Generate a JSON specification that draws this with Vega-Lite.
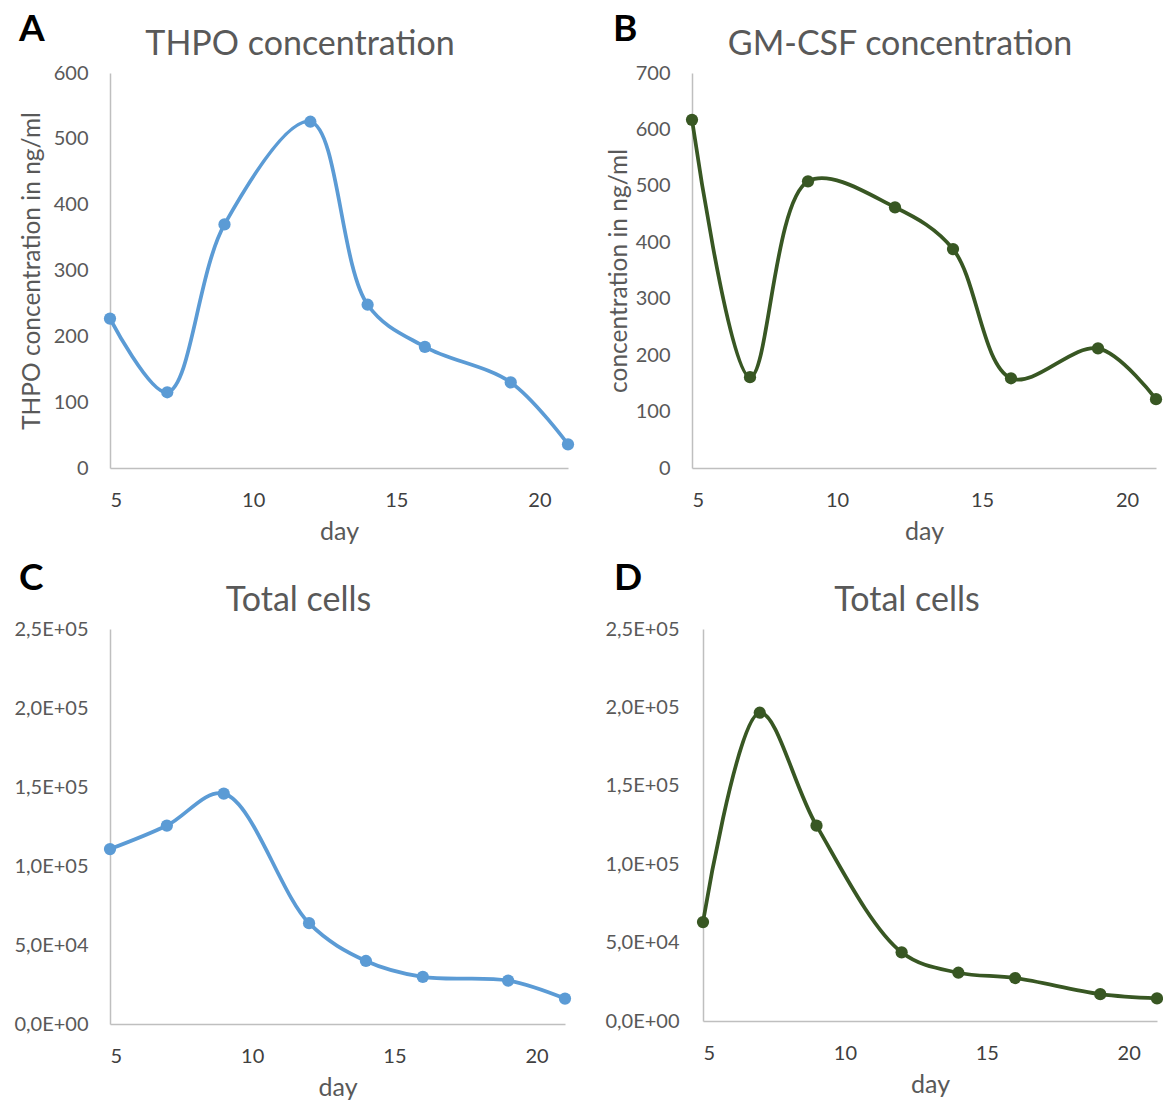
{
  "$schema": "https://vega.github.io/schema/vega-lite/v6.json",
  "padding": {"left": 13, "top": 11, "right": 0, "bottom": 0},
  "background": "white",
  "config": {
    "view": {"stroke": null},
    "font": "Lato",
    "axis": {
      "grid": false,
      "ticks": false,
      "tickSize": 0,
      "domainColor": "#BFBFBF",
      "domainWidth": 1.5,
      "labelColor": "#595959",
      "labelFont": "Lato",
      "labelFontSize": 20,
      "titleColor": "#595959",
      "titleFont": "Lato",
      "titleFontSize": 24.5,
      "titleFontWeight": "normal"
    },
    "axisX": {"labelPadding": 22, "titlePadding": 9, "labelColor": "#404040", "titleFontSize": 25},
    "axisY": {"labelPadding": 22, "titlePadding": 9},
    "title": {"font": "Lato", "fontSize": 34, "fontWeight": "normal", "color": "#595959"}
  },
  "datasets": {
    "thpo": [
      {"day": 5, "value": 227}, {"day": 7, "value": 115}, {"day": 9, "value": 370}, {"day": 12, "value": 526},
      {"day": 14, "value": 248}, {"day": 16, "value": 184}, {"day": 19, "value": 130}, {"day": 21, "value": 36}
    ],
    "gmcsf": [
      {"day": 5, "value": 617}, {"day": 7, "value": 161}, {"day": 9, "value": 508}, {"day": 12, "value": 462},
      {"day": 14, "value": 388}, {"day": 16, "value": 159}, {"day": 19, "value": 212}, {"day": 21, "value": 122}
    ],
    "cellsC": [
      {"day": 5, "value": 110700}, {"day": 7, "value": 125600}, {"day": 9, "value": 145800}, {"day": 12, "value": 63800},
      {"day": 14, "value": 39900}, {"day": 16, "value": 29800}, {"day": 19, "value": 27500}, {"day": 21, "value": 16100}
    ],
    "cellsD": [
      {"day": 5, "value": 63100}, {"day": 7, "value": 196600}, {"day": 9, "value": 124600}, {"day": 12, "value": 43800},
      {"day": 14, "value": 30800}, {"day": 16, "value": 27400}, {"day": 19, "value": 17100}, {"day": 21, "value": 14400}
    ]
  },
  "spacing": 16,
  "vconcat": [
    {
      "spacing": 30,
      "hconcat": [
        {
          "title": {"text": "A", "anchor": "start", "frame": "group", "fontSize": 37, "fontWeight": "bold", "color": "#000000", "dx": -91, "dy": 25},
          "vconcat": [
            {
              "title": {"text": "THPO concentration", "dx": -39, "dy": 3},
              "width": 458,
              "height": 395,
              "data": {"name": "thpo"},
              "encoding": {
                "x": {"field": "day", "type": "quantitative", "scale": {"domain": [5, 21], "nice": false, "zero": false}, "axis": {"values": [5, 10, 15, 20], "title": "day"}},
                "y": {"field": "value", "type": "quantitative", "scale": {"domain": [0, 600], "nice": false}, "axis": {"values": [0, 100, 200, 300, 400, 500, 600], "title": "THPO concentration in ng/ml"}}
              },
              "layer": [
                {"mark": {"type": "line", "interpolate": "catmull-rom", "color": "#5B9BD5", "strokeWidth": 3.75}},
                {"mark": {"type": "point", "filled": true, "size": 150, "color": "#5B9BD5", "opacity": 1}}
              ]
            }
          ]
        },
        {
          "title": {"text": "B", "anchor": "start", "frame": "group", "fontSize": 37, "fontWeight": "bold", "color": "#000000", "dx": -79, "dy": 25},
          "vconcat": [
            {
              "title": {"text": "GM-CSF concentration", "dx": -24, "dy": 3},
              "width": 464,
              "height": 395,
              "data": {"name": "gmcsf"},
              "encoding": {
                "x": {"field": "day", "type": "quantitative", "scale": {"domain": [5, 21], "nice": false, "zero": false}, "axis": {"values": [5, 10, 15, 20], "title": "day"}},
                "y": {"field": "value", "type": "quantitative", "scale": {"domain": [0, 700], "nice": false}, "axis": {"values": [0, 100, 200, 300, 400, 500, 600, 700], "title": "concentration in ng/ml", "titlePadding": 3.5}}
              },
              "layer": [
                {"mark": {"type": "line", "interpolate": "catmull-rom", "color": "#385723", "strokeWidth": 3.75}},
                {"mark": {"type": "point", "filled": true, "size": 150, "color": "#385723", "opacity": 1}}
              ]
            }
          ]
        }
      ]
    },
    {
      "spacing": 31,
      "hconcat": [
        {
          "title": {"text": "C", "anchor": "start", "frame": "group", "fontSize": 37, "fontWeight": "bold", "color": "#000000", "dx": -91, "dy": 18},
          "vconcat": [
            {
              "title": {"text": "Total cells", "dx": -39, "dy": 3},
              "width": 455,
              "height": 395,
              "data": {"name": "cellsC"},
              "encoding": {
                "x": {"field": "day", "type": "quantitative", "scale": {"domain": [5, 21], "nice": false, "zero": false}, "axis": {"values": [5, 10, 15, 20], "title": "day"}},
                "y": {"field": "value", "type": "quantitative", "scale": {"domain": [0, 250000], "nice": false}, "axis": {"values": [0, 50000, 100000, 150000, 200000, 250000], "title": null, "labelPadding": 22, "labelExpr": "replace(replace(upper(format(datum.value, '.1e')), '.', ','), 'E+', 'E+0')"}}
              },
              "layer": [
                {"mark": {"type": "line", "interpolate": "catmull-rom", "color": "#5B9BD5", "strokeWidth": 3.75}},
                {"mark": {"type": "point", "filled": true, "size": 150, "color": "#5B9BD5", "opacity": 1}}
              ]
            }
          ]
        },
        {
          "title": {"text": "D", "anchor": "start", "frame": "group", "fontSize": 37, "fontWeight": "bold", "color": "#000000", "dx": -89, "dy": 18},
          "vconcat": [
            {
              "title": {"text": "Total cells", "dx": -23, "dy": 3},
              "width": 454,
              "height": 392,
              "data": {"name": "cellsD"},
              "encoding": {
                "x": {"field": "day", "type": "quantitative", "scale": {"domain": [5, 21], "nice": false, "zero": false}, "axis": {"values": [5, 10, 15, 20], "title": "day"}},
                "y": {"field": "value", "type": "quantitative", "scale": {"domain": [0, 250000], "nice": false}, "axis": {"values": [0, 50000, 100000, 150000, 200000, 250000], "title": null, "labelPadding": 24, "labelExpr": "replace(replace(upper(format(datum.value, '.1e')), '.', ','), 'E+', 'E+0')"}}
              },
              "layer": [
                {"mark": {"type": "line", "interpolate": "catmull-rom", "color": "#385723", "strokeWidth": 3.75}},
                {"mark": {"type": "point", "filled": true, "size": 150, "color": "#385723", "opacity": 1}}
              ]
            }
          ]
        }
      ]
    }
  ]
}
